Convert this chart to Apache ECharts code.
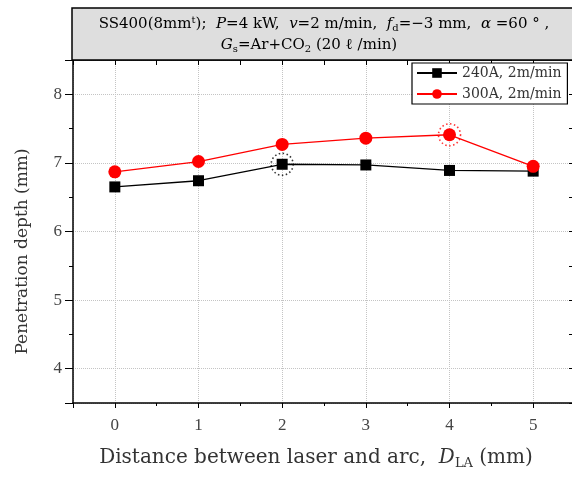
<!DOCTYPE html>
<html>
<head>
<meta charset="utf-8">
<script src="https://cdn.jsdelivr.net/npm/echarts@6/dist/echarts.min.js"></script>
<style>html,body{margin:0;padding:0;background:#fff}#c{width:572px;height:477px}</style>
</head>
<body>
<div id="c"></div>
<script>
// ---- data ----
const xValues = [0, 1, 2, 3, 4, 5];
const depth240 = [6.65, 6.74, 6.98, 6.97, 6.89, 6.88];
const depth300 = [6.87, 7.02, 7.27, 7.36, 7.41, 6.95];
const seriesNames = ['240A, 2m/min', '300A, 2m/min'];
const highlight240 = 2;   // index of circled black point
const highlight300 = 4;   // index of circled red point
const xRange = [-0.5, 5.5];
const yRange = [3.5, 8.5];

const FONT = "'Liberation Serif','DejaVu Serif',serif";
const WIDE = "'DejaVu Serif','Liberation Serif',serif";
const chart = echarts.init(document.getElementById('c'));

const pair = (arr) => xValues.map((x, i) => [x, arr[i]]);
const intLabel = (v) => (Math.abs(v - Math.round(v)) < 1e-6 ? String(Math.round(v)) : '');
const gridLine = { show: true, lineStyle: { color: '#c4c4c4', type: 'dotted', width: 1 } };
const titleRich = {
  n: { fontFamily: WIDE, fontSize: 15, color: '#222', lineHeight: 20 },
  i: { fontFamily: WIDE, fontSize: 15, color: '#222', fontStyle: 'italic', lineHeight: 20 },
  sub: { fontFamily: WIDE, fontSize: 10, color: '#222', padding: [9, 0, 0, 0], lineHeight: 10 },
  sup: { fontFamily: WIDE, fontSize: 10, color: '#222', padding: [0, 0, 8, 0], lineHeight: 10 }
};

const option = {
  animation: false,
  grid: { left: 73, top: 60, right: -3, bottom: 74, outerBoundsMode: 'none', containLabel: false },
  graphic: [
    { type: 'rect', z: 100, shape: { x: 72, y: 8, width: 520, height: 52 },
      style: { fill: '#dedede', stroke: '#000', lineWidth: 1.5 } },
    { type: 'text', z: 101, x: 324, y: 24,
      style: {
        text: '{n|SS400(8mm}{sup|t}{n|);  }{i|P}{n|=4 kW,  }{i|v}{n|=2 m/min,  }{i|f}{sub|d}{n|=−3 mm,  }{i|α}{n| =60 ° ,}',
        align: 'center', verticalAlign: 'middle', rich: titleRich
      } },
    { type: 'text', z: 101, x: 309, y: 45,
      style: {
        text: '{i|G}{sub|s}{n|=Ar+CO}{sub|2}{n| (20 ℓ /min)}',
        align: 'center', verticalAlign: 'middle', rich: titleRich
      } }
  ],
  legend: {
    data: seriesNames,
    orient: 'vertical', left: 412, top: 63,
    backgroundColor: '#fff', borderColor: '#000', borderWidth: 1.2, borderRadius: 0,
    padding: [3, 6, 3, 4], itemGap: 7, itemWidth: 40, itemHeight: 12,
    textStyle: { fontFamily: WIDE, fontSize: 14, color: '#333' }, z: 10
  },
  xAxis: [
    { type: 'value', min: xRange[0], max: xRange[1], splitNumber: 6, position: 'bottom',
      axisLine: { onZero: false, lineStyle: { color: '#000', width: 1.5 } },
      axisTick: { show: true, inside: false, length: 5, lineStyle: { color: '#000' } },
      axisLabel: { formatter: intLabel, margin: 14, fontFamily: FONT, fontSize: 17, color: '#444' },
      splitLine: gridLine,
      name: '{n|Distance between laser and arc,  }{i|D}{sub|LA}{n| (mm)}', nameLocation: 'middle', nameGap: 43,
      nameTextStyle: { padding: [0, 16, 0, 0], rich: {
        n: { fontFamily: WIDE, fontSize: 20, color: '#333' },
        i: { fontFamily: WIDE, fontSize: 20, color: '#333', fontStyle: 'italic' },
        sub: { fontFamily: WIDE, fontSize: 13, color: '#333', padding: [11, 0, 0, 0] }
      } } },
    { type: 'value', min: xRange[0], max: xRange[1], interval: 0.5, position: 'bottom',
      axisLine: { show: false, onZero: false }, axisLabel: { show: false }, splitLine: { show: false },
      axisTick: { show: true, inside: false, length: 3, lineStyle: { color: '#000' } } },
    { type: 'value', min: xRange[0], max: xRange[1], interval: 0.5, position: 'top',
      axisLine: { show: true, onZero: false, lineStyle: { color: '#000', width: 1.5 } },
      axisLabel: { show: false }, splitLine: { show: false },
      axisTick: { show: true, inside: true, length: 5, lineStyle: { color: '#000' } } }
  ],
  yAxis: [
    { type: 'value', min: yRange[0], max: yRange[1], splitNumber: 5, position: 'left',
      axisLine: { onZero: false, lineStyle: { color: '#000', width: 1.5 } },
      axisTick: { show: true, inside: false, length: 8, lineStyle: { color: '#000' } },
      axisLabel: { formatter: intLabel, margin: 11, fontFamily: FONT, fontSize: 17, color: '#444' },
      splitLine: gridLine,
      name: 'Penetration depth (mm)', nameLocation: 'middle', nameRotate: 90, nameGap: 42,
      nameTextStyle: { fontFamily: WIDE, fontSize: 17, color: '#333', padding: [0, 40, 0, 0] } },
    { type: 'value', min: yRange[0], max: yRange[1], interval: 0.5, position: 'left',
      axisLine: { show: false, onZero: false }, axisLabel: { show: false }, splitLine: { show: false },
      axisTick: { show: true, inside: false, length: 4, lineStyle: { color: '#000' } } },
    { type: 'value', min: yRange[0], max: yRange[1], interval: 0.5, position: 'right',
      axisLine: { show: true, onZero: false, lineStyle: { color: '#000', width: 1.5 } },
      axisLabel: { show: false }, splitLine: { show: false },
      axisTick: { show: true, inside: true, length: 6, lineStyle: { color: '#000' } } }
  ],
  series: [
    { name: seriesNames[0], type: 'line', data: pair(depth240), symbol: 'rect', symbolSize: 11,
      itemStyle: { color: '#000' }, lineStyle: { color: '#000', width: 1.3 }, z: 3 },
    { name: seriesNames[1], type: 'line', data: pair(depth300), symbol: 'circle', symbolSize: 13,
      itemStyle: { color: '#ff0000' }, lineStyle: { color: '#ff0000', width: 1.3 }, z: 4 },
    { type: 'scatter', data: [[xValues[highlight240], depth240[highlight240]]], symbol: 'circle', symbolSize: 22,
      itemStyle: { color: 'rgba(0,0,0,0)', borderColor: '#000', borderWidth: 1.6, borderType: [1.5, 2.5] },
      silent: true, z: 5 },
    { type: 'scatter', data: [[xValues[highlight300], depth300[highlight300]]], symbol: 'circle', symbolSize: 22,
      itemStyle: { color: 'rgba(0,0,0,0)', borderColor: '#ff0000', borderWidth: 1.6, borderType: [1.5, 2.5] },
      silent: true, z: 5 }
  ]
};
chart.setOption(option);
</script>
</body>
</html>
